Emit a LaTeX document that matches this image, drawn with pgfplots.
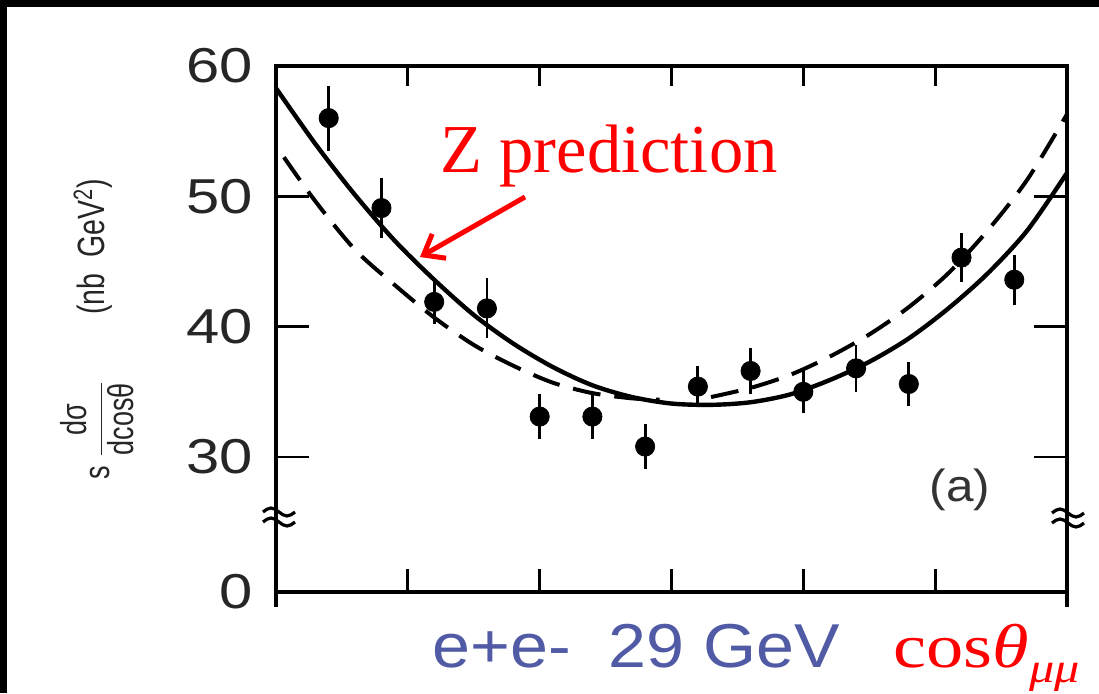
\documentclass[border=0pt]{standalone}
\usepackage{fontspec}
\setmainfont{Liberation Sans}
\newfontfamily\serifA{Liberation Serif}
\newfontfamily\serifW[FakeStretch=1.2]{Liberation Serif}
\newfontfamily\tickf[FakeStretch=1.22]{Liberation Sans}
\newfontfamily\narrow[FakeStretch=0.75]{Liberation Sans}
\newfontfamily\wide[FakeStretch=1.1]{Liberation Sans}
\usepackage{pgfplots}
\pgfplotsset{compat=1.18}
\usetikzlibrary{arrows.meta}
\definecolor{eblue}{RGB}{80,90,165}
\begin{document}
\begin{tikzpicture}
\useasboundingbox (0,0) rectangle (549.5pt,346.5pt);
\fill[black] (0,0) rectangle (549.5pt,346.5pt);
\fill[white] (3.5pt,0) rectangle (549.5pt,343pt);
\begin{axis}[
  at={(138pt,50.5pt)}, anchor=south west,
  scale only axis, width=395.5pt, height=263pt,
  xmin=-1, xmax=1, ymin=19.64, ymax=60,
  xtick=\empty,
  ytick={19.64,30,40,50,60},
  yticklabels={\mbox{0},\mbox{30},\mbox{40},\mbox{50},\mbox{60}},
  major tick length=0pt,
  yticklabel style={font=\tickf\fontsize{24.5}{24.5}\selectfont, text=black!85, inner sep=0pt, xshift=-11.5pt},
  axis line style={line width=1.6pt},
  clip=false,
]
\addplot[black, line width=2.2pt, smooth] coordinates {
(-1,58.3) (-0.9,54.0) (-0.8,50.1) (-0.7,46.6) (-0.6,43.6) (-0.5,40.9) (-0.4,38.7) (-0.3,36.9) (-0.2,35.5) (-0.1,34.6) (0,34.1) (0.1,34.0) (0.2,34.2) (0.3,34.8) (0.4,35.9) (0.5,37.3) (0.6,39.1) (0.7,41.4) (0.8,44.1) (0.9,47.4) (1,51.8)};
\addplot[black, line width=2pt, dash pattern=on 14pt off 7pt, smooth] coordinates {
(-0.98,53.0) (-0.9,49.6) (-0.8,45.9) (-0.7,43.2) (-0.6,40.7) (-0.5,38.6) (-0.4,37.0) (-0.3,35.7) (-0.2,34.9) (-0.1,34.5) (-0.03,34.4)};
\addplot[black, line width=2pt, dash pattern=on 14pt off 7pt, smooth] coordinates {
(0.1,34.6) (0.2,35.3) (0.3,36.3) (0.4,37.7) (0.5,39.4) (0.6,41.5) (0.7,44.1) (0.8,47.4) (0.9,51.3) (1,56.3)};
\addplot[only marks, mark=*, mark size=4.8pt, black,
  error bars/.cd, y dir=both, y explicit, error mark=none,
  error bar style={line width=1.4pt}] coordinates {
(-0.8667,56.0) +- (0,2.5)
(-0.7333,49.1) +- (0,2.3)
(-0.6,41.9) +- (0,1.7)
(-0.4667,41.4) +- (0,2.3)
(-0.3333,33.1) +- (0,1.7)
(-0.2,33.1) +- (0,1.7)
(-0.0667,30.8) +- (0,1.7)
(0.0667,35.4) +- (0,1.6)
(0.2,36.6) +- (0,1.8)
(0.3333,35.0) +- (0,1.6)
(0.4667,36.8) +- (0,1.8)
(0.6,35.6) +- (0,1.7)
(0.7333,45.3) +- (0,1.9)
(0.8667,43.6) +- (0,1.9)};
\end{axis}
% y ticks (left and right) at 30, 40, 50
\foreach \Y in {118.0,183.2,248.3} {
  \draw[line width=1.4pt] (138pt,\Y pt) -- (154.5pt,\Y pt);
  \draw[line width=1.4pt] (533.5pt,\Y pt) -- (517pt,\Y pt);
}
% x ticks (top and bottom)
\foreach \X in {203.9,269.8,335.75,401.7,467.6} {
  \draw[line width=1.4pt] (\X pt,313.5pt) -- (\X pt,303.5pt);
  \draw[line width=1.4pt] (\X pt,50.5pt) -- (\X pt,62pt);
}
% axis extensions below
\draw[line width=1.6pt] (138pt,50.5pt) -- (138pt,43pt);
\draw[line width=1.6pt] (533.5pt,50.5pt) -- (533.5pt,43pt);
% break symbols
\foreach \cx/\cy in {139.5/88, 534/87.5} {
  \draw[line width=1.6pt] (\cx pt-8pt,\cy pt+2.5pt) sin ++(4pt,2pt) cos ++(4pt,-2pt) sin ++(4pt,-2pt) cos ++(4pt,2pt);
  \draw[line width=1.6pt] (\cx pt-8pt,\cy pt-2.5pt) sin ++(4pt,2pt) cos ++(4pt,-2pt) sin ++(4pt,-2pt) cos ++(4pt,2pt);
}
% y label
\node[rotate=90, font=\narrow\fontsize{19}{19}\selectfont, text=black!85] at (46.5pt,223pt) {(nb\ \ GeV\textsuperscript{2})};
\node[rotate=90, font=\narrow\fontsize{18}{18}\selectfont, text=black!85] at (48.5pt,131.5pt) {s\hspace{4pt}$\displaystyle\frac{\mbox{dσ}}{\mbox{dcosθ}}$};
% (a)
\node[font=\wide\fontsize{22.5}{22.5}\selectfont, text=black!80] at (480pt,101.5pt) {(a)};
% Z prediction
\node[anchor=base west, inner sep=0pt, text=red, font=\serifA\fontsize{34.3}{34.3}\selectfont] at (220pt,260.5pt) {Z prediction};
\draw[red, line width=2.5pt, -{Straight Barb[length=9pt,width=14pt]}] (262.5pt,248pt) -- (210pt,218pt);
% bottom texts
\node[anchor=base west, inner sep=0pt, text=eblue, font=\wide\fontsize{31}{31}\selectfont] at (216pt,13pt) {e+e-\ \ 29 GeV};
\node[anchor=base west, inner sep=0pt, text=red, font=\serifW\fontsize{31}{31}\selectfont] at (446.5pt,13pt) {cos\textit{θ}\raisebox{-0.25em}{\fontsize{21}{21}\selectfont\textit{μμ}}};
\end{tikzpicture}
\end{document}
